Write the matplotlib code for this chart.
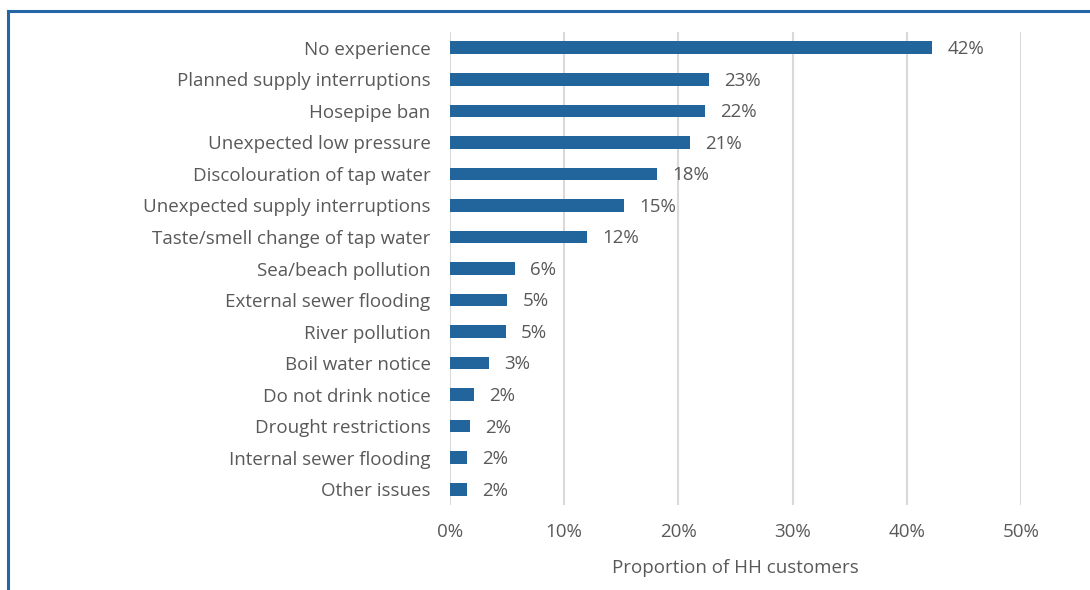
import matplotlib
matplotlib.use("Agg")
import matplotlib.pyplot as plt
from matplotlib.lines import Line2D

# categories, top to bottom
categories = [
    "No experience",
    "Planned supply interruptions",
    "Hosepipe ban",
    "Unexpected low pressure",
    "Discolouration of tap water",
    "Unexpected supply interruptions",
    "Taste/smell change of tap water",
    "Sea/beach pollution",
    "External sewer flooding",
    "River pollution",
    "Boil water notice",
    "Do not drink notice",
    "Drought restrictions",
    "Internal sewer flooding",
    "Other issues",
]
# share of household customers, %
values = [42.2, 22.7, 22.3, 21.0, 18.1, 15.2, 12.0, 5.7, 5.0, 4.9, 3.4, 2.1, 1.75, 1.5, 1.5]
xticks = [0, 10, 20, 30, 40, 50]

bar_color = "#21659C"
text_color = "#595959"
grid_color = "#D9D9D9"
fs = 13.5

plt.rcParams['font.family'] = ['Open Sans', 'DejaVu Sans']

fig = plt.figure(figsize=(10.9, 5.9), dpi=100)
ax = fig.add_axes([450 / 1090, 1 - 505 / 590, 571 / 1090, 473 / 590])

y = list(range(len(categories)))
ax.barh(y, values, height=0.4, color=bar_color, zorder=3)

for yi, v in zip(y, values):
    ax.annotate(f"{int(v + 0.5)}%", (v, yi), xytext=(11, -1), textcoords="offset points",
                va="center", ha="left", fontsize=fs, color=text_color)

ax.set_xlim(0, 50)
ax.set_ylim(len(categories) - 0.5, -0.5)
ax.set_yticks(y)
ax.set_yticklabels(categories, fontsize=fs, color=text_color)
ax.set_xticks(xticks)
ax.set_xticklabels([f"{t}%" for t in xticks], fontsize=fs, color=text_color)
ax.tick_params(axis="both", length=0)
ax.tick_params(axis="y", pad=14)
ax.tick_params(axis="x", pad=13)
ax.xaxis.grid(True, color=grid_color, linewidth=1.5, zorder=0)
for s in ax.spines.values():
    s.set_visible(False)

ax.set_xlabel("Proportion of HH customers", fontsize=fs, color=text_color, labelpad=13)

# blue frame on top and left edge
frame_color = "#2266A6"
fig.add_artist(Line2D([8 / 1090, 1], [1 - 11 / 590, 1 - 11 / 590], color=frame_color, lw=2.2,
                      transform=fig.transFigure))
fig.add_artist(Line2D([8 / 1090, 8 / 1090], [0, 1 - 11 / 590], color=frame_color, lw=2.2,
                      transform=fig.transFigure))

fig.savefig("out.png", dpi=100)
